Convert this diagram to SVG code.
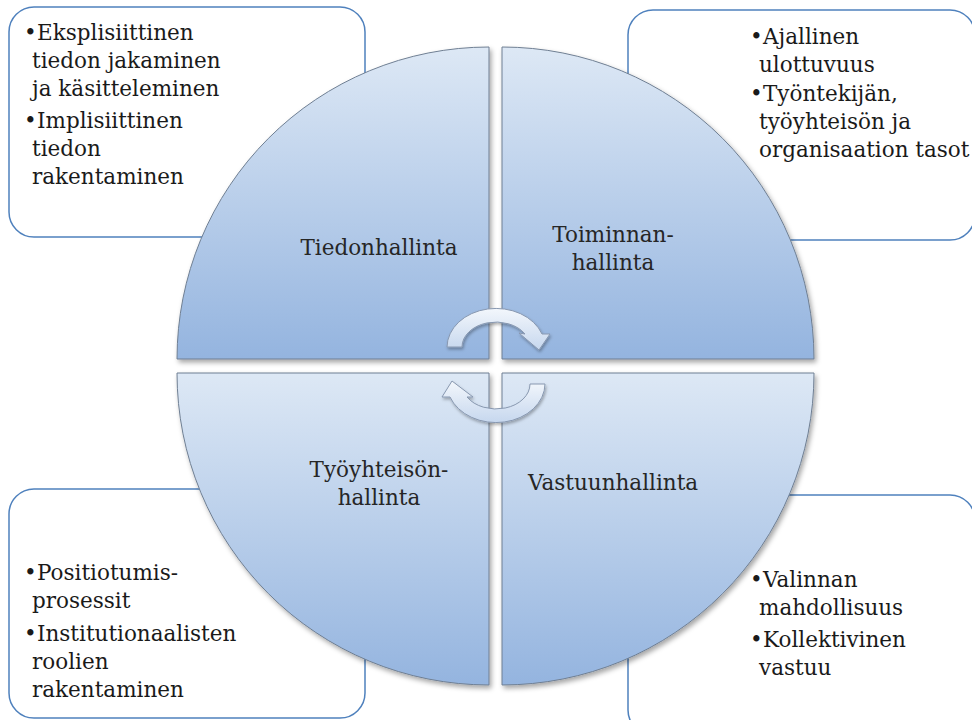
<svg xmlns="http://www.w3.org/2000/svg" width="972" height="720" viewBox="0 0 972 720">
<defs>
<linearGradient id="qgrad" x1="0" y1="0" x2="0" y2="1">
<stop offset="0" stop-color="#dde8f5"/>
<stop offset="1" stop-color="#94b4df"/>
</linearGradient>
<linearGradient id="agrad" x1="0" y1="0" x2="0" y2="1">
<stop offset="0" stop-color="#f3f7fc"/>
<stop offset="1" stop-color="#c6d7ee"/>
</linearGradient>
<filter id="shadow" x="-10%" y="-10%" width="125%" height="125%">
<feDropShadow dx="2" dy="3" stdDeviation="2.5" flood-color="#000" flood-opacity="0.35"/>
</filter>
<filter id="ashadow" x="-20%" y="-20%" width="150%" height="150%">
<feDropShadow dx="1" dy="2" stdDeviation="1.5" flood-color="#000" flood-opacity="0.3"/>
</filter>
</defs>
<style>
.box{fill:#fff;stroke:#4f81bd;stroke-width:1.5}
.quad{fill:url(#qgrad);stroke:#6f7f93;stroke-width:1;filter:url(#shadow)}
.arrow{fill:url(#agrad);stroke:#8898b0;stroke-width:1;filter:url(#ashadow)}
text{font-family:"DejaVu Serif","Liberation Serif",serif;font-size:21.5px;fill:#1a1a1a}
.lbl{text-anchor:middle;fill:#262626}
</style>
<rect width="972" height="720" fill="#fff"/>

<g id="box-tiedonhallinta">
<rect class="box" x="9" y="7" width="356" height="230" rx="25"/>
<text x="24" y="40">•</text><text x="37" y="40">Eksplisiittinen</text>
<text x="32" y="68">tiedon jakaminen</text>
<text x="32" y="96">ja käsitteleminen</text>
<text x="24" y="128">•</text><text x="37" y="128">Implisiittinen</text>
<text x="32" y="156">tiedon</text>
<text x="32" y="184">rakentaminen</text>
</g>

<g id="box-toiminnanhallinta">
<rect class="box" x="628" y="10" width="347" height="230" rx="25"/>
<text x="750" y="44">•</text><text x="763" y="44">Ajallinen</text>
<text x="759" y="72">ulottuvuus</text>
<text x="750" y="101">•</text><text x="763" y="101">Työntekijän,</text>
<text x="759" y="129">työyhteisön ja</text>
<text x="759" y="157">organisaation tasot</text>
</g>

<g id="box-tyoyhteisonhallinta">
<rect class="box" x="9" y="489" width="356" height="229" rx="25"/>
<text x="24" y="580">•</text><text x="37" y="580">Positiotumis-</text>
<text x="32" y="608">prosessit</text>
<text x="24" y="641">•</text><text x="37" y="641">Institutionaalisten</text>
<text x="32" y="669">roolien</text>
<text x="32" y="697">rakentaminen</text>
</g>

<g id="box-vastuunhallinta">
<rect class="box" x="628" y="495" width="347" height="240" rx="25"/>
<text x="750" y="587">•</text><text x="763" y="587">Valinnan</text>
<text x="759" y="615">mahdollisuus</text>
<text x="750" y="647">•</text><text x="763" y="647">Kollektivinen</text>
<text x="759" y="675">vastuu</text>
</g>

<g id="quad-tiedonhallinta">
<path class="quad" d="M489,359 L177,359 A312,312 0 0 1 489,47 Z"/>
<text class="lbl" x="379" y="255">Tiedonhallinta</text>
</g>
<g id="quad-toiminnanhallinta">
<path class="quad" d="M502,359 L502,47 A312,312 0 0 1 814,359 Z"/>
<text class="lbl" x="613" y="242">Toiminnan-</text>
<text class="lbl" x="613" y="270">hallinta</text>
</g>
<g id="quad-tyoyhteisonhallinta">
<path class="quad" d="M489,373 L489,685 A312,312 0 0 1 177,373 Z"/>
<text class="lbl" x="379" y="477">Työyhteisön-</text>
<text class="lbl" x="379" y="505">hallinta</text>
</g>
<g id="quad-vastuunhallinta">
<path class="quad" d="M502,373 L814,373 A312,312 0 0 1 502,685 Z"/>
<text class="lbl" x="613" y="490">Vastuunhallinta</text>
</g>

<g id="connectors">
<path class="arrow" d="M447,347 A49,39 0 0 1 542,334 L550,334 L539,350 L519,333 L525,334 A34,25 0 0 0 462,347 Z"/>
<path class="arrow" d="M545,384 A49,39 0 0 1 450,397 L442,397 L452,381 L473,397 L467,397 A34,25 0 0 0 530,384 Z"/>
</g>
</svg>
